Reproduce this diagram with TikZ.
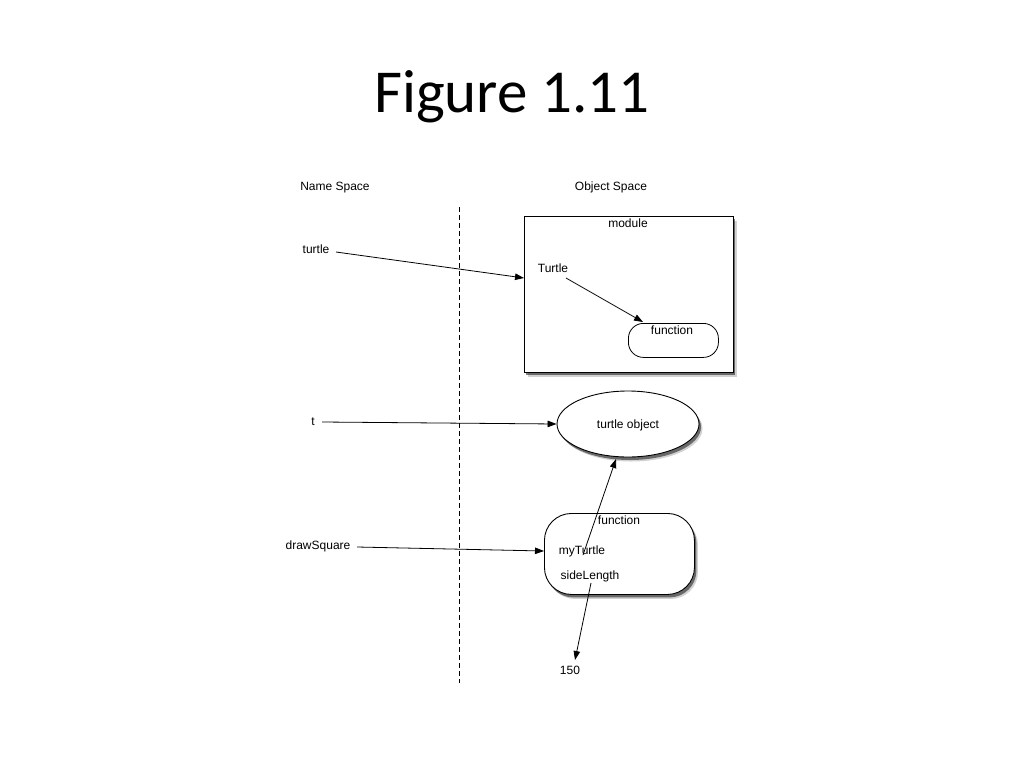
\documentclass[tikz,border=0pt]{standalone}
\usepackage{fontspec}
\setmainfont{Liberation Sans}
\newfontfamily\titlefont{Carlito}
\usetikzlibrary{arrows.meta,shapes.geometric,shadows}
\begin{document}
\begin{tikzpicture}[x=1pt,y=-1pt,
  lbl/.style={font=\fontsize{12}{14}\selectfont, inner sep=1pt, text height=0.72em, text depth=0.22em, yshift=-2pt},
  arr/.style={-{Triangle[length=9,width=6.5]}, line width=0.8pt},
  shad/.style={general shadow={shadow xshift=3.5pt, shadow yshift=-4.5pt, fill=black, opacity=0.18},
               general shadow={shadow xshift=2pt, shadow yshift=-3pt, fill=black, opacity=0.5}},
  box/.style={draw, line width=0.9pt, fill=white}]
\useasboundingbox (0,0) rectangle (1024,768);
\node[font=\titlefont\fontsize{61}{70}\selectfont] (title) at (512,97) {Figure 1.11};
\node[lbl] (ns) at (335,186) {Name Space};
\node[lbl] (os) at (611,186) {Object Space};
\coordinate (d1) at (459,207);
\coordinate (d2) at (459,683);
\draw[dash pattern=on 5pt off 3pt, line width=0.7pt] (d1) -- (d2);
% module
\node[box, shad, minimum width=209, minimum height=156, anchor=north west, inner sep=0pt] (mod) at (524,216) {};
\node[lbl] (modl) at (628,223) {module};
\node[lbl] (Tur) at (553,268) {Turtle};
\node[draw, line width=0.8pt, rounded corners=15, minimum width=90, minimum height=34, anchor=north west, inner sep=0pt] (fn1) at (628,323) {};
\node[lbl] (fn1l) at (672,330) {function};
% turtle
\node[lbl] (turtle) at (316,249) {turtle};
\coordinate (tst) at (336,252);
\draw[arr] (tst) -- (mod.west |- 0,278);
\coordinate (Ts) at (566,278);
\coordinate (Te) at (643,322);
\draw[arr] (Ts) -- (Te);
% ellipse
\node[ellipse, box, shad, minimum width=142, minimum height=66, inner sep=0pt] (obj) at (628,424) {};
\node[lbl] (objl) at (628,424) {turtle object};
\node[lbl] (t) at (313,421) {t};
\coordinate (tt) at (322,422);
\draw[arr] (tt) -- (obj.west);
% function box
\node[box, shad, rounded corners=27, minimum width=150, minimum height=81, anchor=north west, inner sep=0pt] (fn2) at (544,513) {};
\node[lbl] (fn2l) at (619,520) {function};
\node[lbl] (myT) at (582,550) {myTurtle};
\node[lbl] (sideL) at (590,575) {sideLength};
\node[lbl] (ds) at (318,545) {drawSquare};
\coordinate (dss) at (357,547);
\draw[arr] (dss) -- (fn2.west |- 0,551);
\coordinate (ms) at (583,555);
\coordinate (me) at (616,459);
\draw[arr] (ms) -- (me);
\node[lbl] (n150) at (570,670) {150};
\coordinate (ss) at (591,583);
\coordinate (se) at (575,660);
\draw[arr] (ss) -- (se);
\end{tikzpicture}
\end{document}
